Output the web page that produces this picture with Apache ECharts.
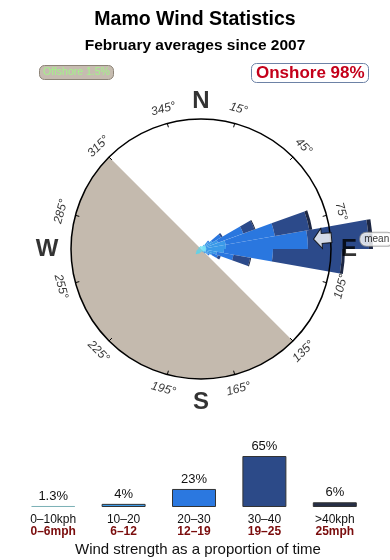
<!DOCTYPE html>
<html>
<head>
<meta charset="utf-8">
<script src="https://cdn.jsdelivr.net/npm/echarts@6/dist/echarts.min.js"></script>
<style>html,body{margin:0;padding:0;background:#fff}#c{width:390px;height:560px}</style>
</head>
<body>
<div id="c"></div>
<script>
// ---- Wind rose data (10° sectors, centre bearing) ----
const sectorCentres = [5,15,25,35,45,55,65,75,85,95,105,115,125,135,145,155,165,175,185,195,205,215,225,235,245,255,265,275,285,295,305,315,325,335,345,355];
// radial extent of each speed band per sector (rose radius units)
const band0to10  = [0.3,0.2,0.3,0.4,0.5,0.5,0.5,0.5,0.5,0.5,0.5,0.5,0.4,0.4,0.3,0.3,0.2,0.3,0.3,0.4,0.5,0.6,0.7,0.6,0.5,0.4,0.3,0.3,0.2,0.2,0.3,0.3,0.2,0.2,0.3,0.3];
const band10to20 = [0,0,0,0.1,0.4,0.8,1.3,2.0,2.0,1.8,1.1,0.7,0.4,0.2,0.1,0,0,0,0,0,0,0,0,0,0,0,0,0,0,0,0,0,0,0,0,0];
const band20to30 = [0,0,0,0,0.2,1.0,2.7,5.0,8.2,4.9,1.7,0.6,0.2,0,0,0,0,0,0,0,0,0,0,0,0,0,0,0,0,0,0,0,0,0,0,0];
const band30to40 = [0,0,0,0,0,0.2,1.2,3.5,6.1,6.9,1.7,0.3,0,0,0,0,0,0,0,0,0,0,0,0,0,0,0,0,0,0,0,0,0,0,0,0];
const bandOver40 = [0,0,0,0,0,0,0.1,0.3,0.4,0.3,0.1,0,0,0,0,0,0,0,0,0,0,0,0,0,0,0,0,0,0,0,0,0,0,0,0,0];
const meanDirection = 85;
const degreeTicks = [15,45,75,105,135,165,195,225,255,285,315,345];
const cardinalNames = ['N','E','S','W'];
const cardinalBearings = [0,90,180,270];

// ---- Speed distribution ----
const speedKph = ['0\u201310kph','10\u201320','20\u201330','30\u201340','>40kph'];
const speedMph = ['0\u20136mph','6\u201312','12\u201319','19\u201325','25mph'];
const speedShare = [1.3,4,23,65,6];
const speedShareLabels = ['1.3%','4%','23%','65%','6%'];

const bandColors = ['#4fd6f2','#3b9ae8','#2a77df','#2c4a8a','#1d2743'];
const barColors  = ['#7fb2b8','#3d9be9','#2b78e0','#2c4a88','#262e46'];
const cardinalOffsets = [14.8, 14.8, 15.3, 15.4]; // label distance (style)

const C = [201, 249];
const chart = echarts.init(document.getElementById('c'));

function tangentRot(b){ let r = b % 180; if (r > 90) r -= 180; return -r; }

const roseBands = [band0to10, band10to20, band20to30, band30to40, bandOver40].map((arr, i) => ({
  type: 'bar', coordinateSystem: 'polar', polarIndex: 1, stack: 'rose',
  data: arr, barCategoryGap: '0%', itemStyle: {color: bandColors[i]}, silent: true, z: 3
}));

chart.setOption({
  animation: false,
  textStyle: {fontFamily: 'Liberation Sans, Arial, sans-serif'},
  title: [
    {text: 'Mamo Wind Statistics', left: 'center', top: 5, textStyle: {fontSize: 19.5, fontWeight: 'bold', color: '#000'}},
    {text: 'February averages since 2007', left: 'center', top: 33, textStyle: {fontSize: 15.5, fontWeight: 'bold', color: '#000'}},
    {text: 'Offshore 1.5%', left: 39, top: 65, padding: [2, 4, 2, 4], backgroundColor: '#c6bcb0', borderColor: '#8d8478', borderWidth: 1, borderRadius: 5,
      textStyle: {fontSize: 10.5, fontWeight: 'normal', color: '#a4f28a'}},
    {text: 'Onshore 98%', left: 251, top: 63, padding: [2, 4, 1, 5], backgroundColor: '#fff', borderColor: '#6d82a6', borderWidth: 1, borderRadius: 5,
      textStyle: {fontSize: 17, fontWeight: 'bold', color: '#c4001a'}},
    {text: 'Wind strength as a proportion of time', left: 70, top: 537, textStyle: {fontSize: 15, fontWeight: 'normal', color: '#111'}}
  ],
  polar: [
    {center: C, radius: 130},
    {center: C, radius: 180},
    {center: C, radius: 180}
  ],
  angleAxis: [
    {polarIndex: 0, type: 'value', min: -15, max: 345, interval: 30, startAngle: 105, clockwise: true, z: 10,
      axisLine: {lineStyle: {color: '#000', width: 1.5}}, axisTick: {inside: true, length: 4, lineStyle: {color: '#000'}},
      axisLabel: {show: false}, splitLine: {show: false}},
    {polarIndex: 1, type: 'category', data: sectorCentres, startAngle: 90, clockwise: true, show: false},
    {polarIndex: 2, type: 'value', min: 0, max: 360, startAngle: 90, clockwise: true, show: false}
  ],
  radiusAxis: [
    {polarIndex: 0, min: 0, max: 13, show: false},
    {polarIndex: 1, min: 0, max: 18, show: false},
    {polarIndex: 2, min: 0, max: 18, show: false}
  ],
  grid: {left: 18, right: 20, top: 456, bottom: 53},
  xAxis: {type: 'category', data: speedKph, axisLine: {show: false}, axisTick: {show: false},
    axisLabel: {interval: 0, margin: 7, formatter: (v, i) => '{a|' + v + '}\n{b|' + speedMph[i] + '}',
      rich: {a: {fontSize: 12, color: '#111', lineHeight: 12}, b: {fontSize: 12, color: '#7a0c0c', fontWeight: 'bold', lineHeight: 12}}}},
  yAxis: {type: 'value', min: 0, max: 65, show: false},
  series: [
    {type: 'pie', center: C, radius: 130, startAngle: 135, clockwise: true, silent: true, z: 1,
      label: {show: false}, labelLine: {show: false}, emphasis: {disabled: true},
      data: [{value: 180, name: 'onshore', itemStyle: {color: 'rgba(255,255,255,0)'}},
             {value: 180, name: 'offshore', itemStyle: {color: '#c4baae'}}]},
    ...roseBands,
    {type: 'scatter', coordinateSystem: 'polar', polarIndex: 2, symbolSize: 0, clip: false, silent: true, z: 12,
      data: degreeTicks.map(b => ({value: [14.5, b], label: {formatter: b + '°', rotate: tangentRot(b)}})),
      label: {show: true, position: 'inside', fontSize: 12, fontStyle: 'italic', color: '#000'}},
    {type: 'scatter', coordinateSystem: 'polar', polarIndex: 2, symbolSize: 0, clip: false, silent: true, z: 12,
      data: cardinalNames.map((n, i) => ({value: [cardinalOffsets[i], cardinalBearings[i]], label: {formatter: n}})),
      label: {show: true, position: 'inside', fontSize: 24, fontWeight: 'bold', color: '#000'}},
    {type: 'scatter', coordinateSystem: 'polar', polarIndex: 2, clip: false, silent: true, z: 13,
      symbol: 'path://M0,10 L9,0 L9,5 L20,5 L20,15 L9,15 L9,20 Z', symbolSize: [18, 20], symbolRotate: 5,
      itemStyle: {color: '#fff', borderColor: '#000', borderWidth: 1},
      data: [[12.2, meanDirection]]},
    {type: 'scatter', coordinateSystem: 'polar', polarIndex: 2, symbolSize: 0, clip: false, silent: true, z: 11,
      data: [[17.6, meanDirection + 1.8]],
      label: {show: true, position: 'inside', formatter: 'mean', fontSize: 10, color: '#000', backgroundColor: '#fff',
        borderColor: '#999', borderWidth: 1, borderRadius: 6, padding: [2, 4, 1, 4]}},
    {type: 'bar', xAxisIndex: 0, yAxisIndex: 0, barWidth: 44, silent: true,
      data: speedShare.map((v, i) => ({value: v, itemStyle: {color: barColors[i], borderColor: i === 0 ? '#7fb2b8' : '#333', borderWidth: 1}})),
      label: {show: true, position: 'top', distance: 3, fontSize: 13, color: '#111', formatter: p => speedShareLabels[p.dataIndex]}}
  ]
});
</script>
</body>
</html>
